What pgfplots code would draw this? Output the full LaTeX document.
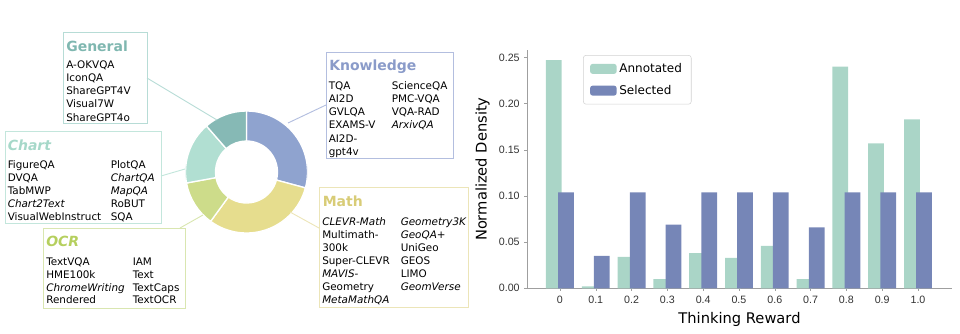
\documentclass[border=0pt]{standalone}
\usepackage{pgfplots}
\pgfplotsset{compat=1.18}
\usepackage{fontspec}
\setmainfont{DejaVu Sans}
\newfontfamily\tickfont{Liberation Sans}
\definecolor{annot}{HTML}{AAD5C7}
\definecolor{selec}{HTML}{7686B7}
\definecolor{cKnow}{HTML}{8FA3CF}
\definecolor{cMath}{HTML}{E6DD8E}
\definecolor{cOCR}{HTML}{CDDC8A}
\definecolor{cChart}{HTML}{B1DFD2}
\definecolor{cGen}{HTML}{86B9B5}
\definecolor{tGen}{HTML}{7FB7B0}
\definecolor{bGen}{HTML}{B7DCD6}
\definecolor{tChart}{HTML}{A6D8C9}
\definecolor{bChart}{HTML}{C3E6DC}
\definecolor{tOCR}{HTML}{B5CF5E}
\definecolor{bOCR}{HTML}{D9E6B0}
\definecolor{tKnow}{HTML}{8A9BC9}
\definecolor{bKnow}{HTML}{B3BEDF}
\definecolor{tMath}{HTML}{D8CC77}
\definecolor{bMath}{HTML}{ECE5B8}
\newcommand{\itemcol}[4]{%
  \foreach \t [count=\i from 0] in {#4} {\node[itm] at (#1,#2-\i*#3) {\t};}}
\begin{document}
\begin{tikzpicture}[x=0.75pt,y=0.75pt,
  itm/.style={anchor=base west, inner sep=0pt, font=\fontsize{7.8}{9}\selectfont},
  ttl/.style={anchor=base west, inner sep=0pt, font=\bfseries\fontsize{10.5}{12}\selectfont}]
\path[use as bounding box] (0,0) rectangle (960,333);
% ---------------- donut ----------------
% shares (%): Knowledge 29.2, Math 30.8, OCR 12.1, Chart 16.5, General 11.4
\begin{axis}[hide axis, at={(184.875pt,120.75pt)}, anchor=center, scale only axis,
  width=91.5pt, height=91.5pt, xmin=-1, xmax=1, ymin=-1, ymax=1]
\fill[cKnow, draw=white, line width=1pt] (axis cs:0,0) ++(90:45.75pt) arc[start angle=90, end angle=-15.1, radius=45.75pt] -- ++(-15.1:-22.5pt) arc[start angle=-15.1, end angle=90, radius=23.25pt] -- cycle;
\fill[cMath, draw=white, line width=1pt] (axis cs:0,0) ++(-15.1:45.75pt) arc[start angle=-15.1, end angle=-126.0, radius=45.75pt] -- ++(-126.0:-22.5pt) arc[start angle=-126.0, end angle=-15.1, radius=23.25pt] -- cycle;
\fill[cOCR, draw=white, line width=1pt] (axis cs:0,0) ++(-126.0:45.75pt) arc[start angle=-126.0, end angle=-169.6, radius=45.75pt] -- ++(-169.6:-22.5pt) arc[start angle=-169.6, end angle=-126.0, radius=23.25pt] -- cycle;
\fill[cChart, draw=white, line width=1pt] (axis cs:0,0) ++(-169.6:45.75pt) arc[start angle=-169.6, end angle=-229.0, radius=45.75pt] -- ++(-229.0:-22.5pt) arc[start angle=-229.0, end angle=-169.6, radius=23.25pt] -- cycle;
\fill[cGen, draw=white, line width=1pt] (axis cs:0,0) ++(-229.0:45.75pt) arc[start angle=-229.0, end angle=-270, radius=45.75pt] -- ++(-270:-22.5pt) arc[start angle=-270, end angle=-229.0, radius=23.25pt] -- cycle;
\end{axis}
% connectors
\draw[bGen, line width=0.7pt] (147,255) -- (217,213);
\draw[bChart, line width=0.7pt] (161,157) -- (185,164);
\draw[bOCR, line width=0.7pt] (180,105) -- (203,118);
\draw[bKnow, line width=0.7pt] (326,228) -- (288,210);
\draw[bMath, line width=0.7pt] (319,105) -- (290,121);
% General
\draw[bGen, line width=0.7pt] (63,301) rectangle (147,210);
\node[ttl, text=tGen] at (66,281.5) {General};
\itemcol{66}{264.7}{13.2}{A-OKVQA, IconQA, ShareGPT4V, Visual7W, ShareGPT4o}
% Chart
\draw[bChart, line width=0.7pt] (5,202) rectangle (161,110);
\node[ttl, text=tChart, font=\itshape\bfseries\fontsize{10.5}{12}\selectfont] at (7.5,183) {Chart};
\itemcol{7.5}{165}{13.1}{FigureQA, DVQA, TabMWP, \textit{Chart2Text}, VisualWebInstruct}
\itemcol{110.5}{165}{13.1}{PlotQA, \textit{ChartQA}, \textit{MapQA}, RoBUT, SQA}
% OCR
\draw[bOCR, line width=0.7pt] (43,105) rectangle (185,25);
\node[ttl, text=tOCR, font=\itshape\bfseries\fontsize{10.5}{12}\selectfont] at (46,86.3) {OCR};
\itemcol{46}{67.5}{12.8}{TextVQA, HME100k, \textit{ChromeWriting}, Rendered}
\itemcol{132.5}{67.5}{12.8}{IAM, Text, TextCaps, TextOCR}
% Knowledge
\draw[bKnow, line width=0.7pt] (326,281) rectangle (453,175);
\node[ttl, text=tKnow] at (329,262.3) {Knowledge};
\itemcol{328.5}{244}{13.3}{TQA, AI2D, GVLQA, EXAMS-V, AI2D-, gpt4v}
\itemcol{391.5}{244}{13.3}{ScienceQA, PMC-VQA, VQA-RAD, \textit{ArxivQA}}
% Math
\draw[bMath, line width=0.7pt] (319,146) rectangle (468,26);
\node[ttl, text=tMath] at (322.5,126.3) {Math};
\itemcol{322}{108}{13}{\textit{CLEVR-Math}, Multimath-, 300k, Super-CLEVR, \textit{MAVIS-}, Geometry, \textit{MetaMathQA}}
\itemcol{400.5}{108}{13}{\textit{Geometry3K}, \textit{GeoQA+}, UniGeo, GEOS, LIMO, \textit{GeomVerse}}
% ---------------- bar chart ----------------
\begin{axis}[at={(395.25pt,33.525pt)}, anchor=south west, scale only axis,
  width=318.75pt, height=178.7pt,
  xmin=-0.092, xmax=1.095, ymin=0, ymax=0.258,
  axis x line*=bottom, axis y line*=left,
  axis line style={draw=gray!75, line width=0.6pt},
  xtick={0,0.1,0.2,0.3,0.4,0.5,0.6,0.7,0.8,0.9,1.0},
  xticklabels={0,0.1,0.2,0.3,0.4,0.5,0.6,0.7,0.8,0.9,1.0},
  ytick={0,0.05,0.1,0.15,0.2,0.25},
  yticklabels={0.00,0.05,0.10,0.15,0.20,0.25},
  major tick length=2pt, tick align=outside, tick style={gray!75},
  ticklabel style={font=\tickfont\fontsize{8}{9}\selectfont, text=black!80},
  xlabel={Thinking Reward}, ylabel={Normalized Density},
  label style={font=\fontsize{11}{13}\selectfont},
  legend style={at={(0.132,0.979)}, anchor=north west, draw=gray!35,
    rounded corners=2pt, fill=white, font=\fontsize{9}{11}\selectfont,
    row sep=4pt, inner xsep=5pt, inner ysep=4pt},
  legend cell align=left,
  legend image code/.code={\fill[#1] (0pt,-3.75pt) rectangle (20pt,3.75pt);},
]
\addplot[ybar, bar width=0.044, bar shift=-0.017, fill=annot, draw=none] coordinates {
 (0,0.247) (0.1,0.002) (0.2,0.034) (0.3,0.010) (0.4,0.038) (0.5,0.033)
 (0.6,0.046) (0.7,0.010) (0.8,0.240) (0.9,0.157) (1.0,0.183)};
\addplot[ybar, bar width=0.044, bar shift=0.017, fill=selec, draw=none] coordinates {
 (0,0.104) (0.1,0.035) (0.2,0.104) (0.3,0.069) (0.4,0.104) (0.5,0.104)
 (0.6,0.104) (0.7,0.066) (0.8,0.104) (0.9,0.104) (1.0,0.104)};
\legend{Annotated, Selected}
\end{axis}
\end{tikzpicture}
\end{document}
